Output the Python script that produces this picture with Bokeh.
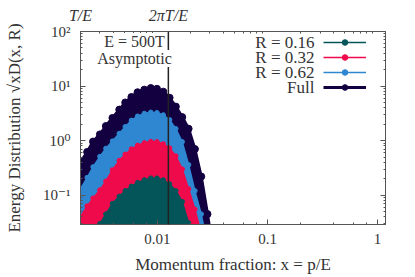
import math
from bokeh.plotting import figure
from bokeh.models import (LogAxis, LogTicker, FixedTicker, CustomJSTickFormatter,
                          Span, Label, Legend, LegendItem, Range1d)
from bokeh.core.properties import value
from bokeh.embed import file_html
from bokeh.resources import INLINE

# ---- data ----
x_frac = [0.0020, 0.0023, 0.0026, 0.0030, 0.0034, 0.0039, 0.0045, 0.0051, 0.0058,
          0.0066, 0.0076, 0.0087, 0.0099, 0.0113, 0.0129, 0.0147, 0.0168, 0.0192,
          0.0219, 0.0250, 0.0285, 0.0325, 0.0371]
full = [0.40, 0.62, 0.96, 1.3, 1.85, 2.6, 3.7, 5.0, 6.3, 7.7, 8.6, 9.2, 8.9, 7.9,
        6.1, 4.2, 2.7, 1.65, 0.70, 0.22, 0.045, 0.008, 0.001]
r062 = [0.13, 0.21, 0.33, 0.51, 0.72, 0.98, 1.35, 1.8, 2.35, 2.8, 3.15, 3.3, 3.25,
        2.95, 2.4, 1.65, 0.95, 0.36, 0.12, 0.045, 0.012, 0.002, 0.0003]
r032 = [0.040, 0.063, 0.088, 0.124, 0.18, 0.29, 0.43, 0.56, 0.70, 0.82, 0.91, 0.96,
        0.95, 0.87, 0.73, 0.52, 0.30, 0.13, 0.055, 0.020, 0.005, 0.001, 0.0002]
r016 = [0.006, 0.010, 0.017, 0.030, 0.045, 0.070, 0.095, 0.12, 0.145, 0.17, 0.19,
        0.205, 0.205, 0.19, 0.16, 0.12, 0.076, 0.031, 0.011, 0.003, 0.0008, 0.0002,
        0.00005]

series_names = ["R = 0.16", "R = 0.32", "R = 0.62", "Full"]
series_values = [r016, r032, r062, full]
series_colors = ["#03555a", "#ef0a4b", "#2f87d2", "#130040"]

bottom_ticks = [0.01, 0.1, 1]
bottom_tick_labels = ["0.01", "0.1", "1"]
left_ticks = [0.1, 1, 10, 100]
left_tick_labels = ["10\u207b\u00b9", "10\u2070", "10\u00b9", "10\u00b2"]
E_over_T = 500
top_ticks = [1 / E_over_T, 2 * math.pi / E_over_T]
top_tick_labels = ["T/E", "2\u03c0T/E"]

FONT = "Liberation Serif, DejaVu Serif, serif"
TXT = "#333333"
AX = "#555555"

p = figure(width=415, height=277, x_axis_type="log", y_axis_type="log",
           x_range=Range1d(0.002, 1.18), y_range=Range1d(0.029, 100),
           output_backend="svg", toolbar_location=None,
           min_border_left=80, min_border_right=30, min_border_top=31,
           min_border_bottom=53)
p.grid.visible = False
p.outline_line_color = AX
p.background_fill_color = "white"

baseline = 1e-6
draw_order = [3, 2, 1, 0]
renderers = {}
for i in draw_order:
    c = series_colors[i]
    ys = series_values[i]
    p.varea(x=x_frac, y1=[baseline] * len(x_frac), y2=ys, fill_color=c)
    lw = 3 if i == 3 else 1.5
    ms = 7 if i == 3 else 4.5
    ln = p.line(x_frac, ys, line_color=c, line_width=lw)
    sc = p.scatter(x_frac, ys, size=ms, fill_color=c, line_color=c)
    renderers[i] = (ln, sc)

# vertical line at 2 pi T / E
p.add_layout(Span(location=top_ticks[1], dimension="height",
                  line_color="#222222", line_width=1.5))

for txt, xx, yy in [("E = 500T", 54, 183), ("Asymptotic", 54, 166)]:
    p.add_layout(Label(x=xx, y=yy, x_units="screen", y_units="screen", text=txt,
                       text_align="center", text_baseline="middle",
                       text_font=FONT, text_font_size="16px", text_color=TXT,
                       background_fill_color="white"))

def style_axis(ax):
    ax.axis_line_color = AX
    ax.major_tick_line_color = AX
    ax.minor_tick_line_color = AX
    ax.major_tick_in = 5
    ax.major_tick_out = 0
    ax.minor_tick_in = 2
    ax.minor_tick_out = 0
    ax.major_label_text_font = FONT
    ax.major_label_text_font_size = "15px"
    ax.major_label_text_color = TXT
    ax.axis_label_text_font = FONT
    ax.axis_label_text_font_size = "17px"
    ax.axis_label_text_font_style = "normal"
    ax.axis_label_text_color = TXT

def lookup_formatter(ticks, labels):
    return CustomJSTickFormatter(args=dict(t=ticks, l=labels), code="""
        for (let i = 0; i < t.length; i++) { if (Math.abs(tick / t[i] - 1) < 1e-6) return l[i]; }
        return "";
    """)

xa = p.xaxis[0]
style_axis(xa)
xa.ticker = LogTicker(mantissas=[1], desired_num_ticks=4)
xa.formatter = lookup_formatter(bottom_ticks, bottom_tick_labels)
xa.axis_label = "Momentum fraction: x = p/E"
xa.major_label_standoff = 9
xa.axis_label_standoff = 8

minor_y = [m * 10.0 ** e for e in (-2, -1, 0, 1) for m in range(2, 10)]
ya = p.yaxis[0]
style_axis(ya)
ya.ticker = FixedTicker(ticks=left_ticks, minor_ticks=minor_y)
ya.formatter = lookup_formatter(left_ticks, left_tick_labels)
ya.axis_label = "Energy Distribution \u221axD(x, R)"
ya.major_label_standoff = 10
ya.axis_label_standoff = 16

minor_x = [m * 10.0 ** e for e in (-3, -2, -1) for m in range(2, 10)]
top = LogAxis(ticker=FixedTicker(ticks=top_ticks, minor_ticks=minor_x))
style_axis(top)
top.major_tick_in = 0
top.formatter = lookup_formatter(top_ticks, top_tick_labels)
top.major_label_text_font_style = "italic"
top.major_label_text_font_size = "16px"
top.major_label_standoff = 8
p.add_layout(top, "above")

right = LogAxis(ticker=FixedTicker(ticks=left_ticks, minor_ticks=minor_y))
style_axis(right)
right.formatter = CustomJSTickFormatter(code="return '';")
right.major_label_standoff = 0
p.add_layout(right, "right")

# legend: glyphs on the right, labels right-aligned on the left
items = [LegendItem(label=value(""), renderers=list(renderers[i])) for i in range(4)]
legend = Legend(items=items, location=(243, 130), glyph_width=43, glyph_height=14,
                spacing=1, padding=0, margin=0, label_standoff=0, label_width=0,
                label_height=14, border_line_color=None, background_fill_alpha=0)
p.add_layout(legend)
for i, yy in enumerate([182, 167, 152, 137]):
    p.add_layout(Label(x=234, y=yy, x_units="screen", y_units="screen",
                       text=series_names[i], text_align="right", text_baseline="middle",
                       text_font=FONT, text_font_size="17px", text_color=TXT))

open("out.html", "w").write(file_html(p, INLINE))
